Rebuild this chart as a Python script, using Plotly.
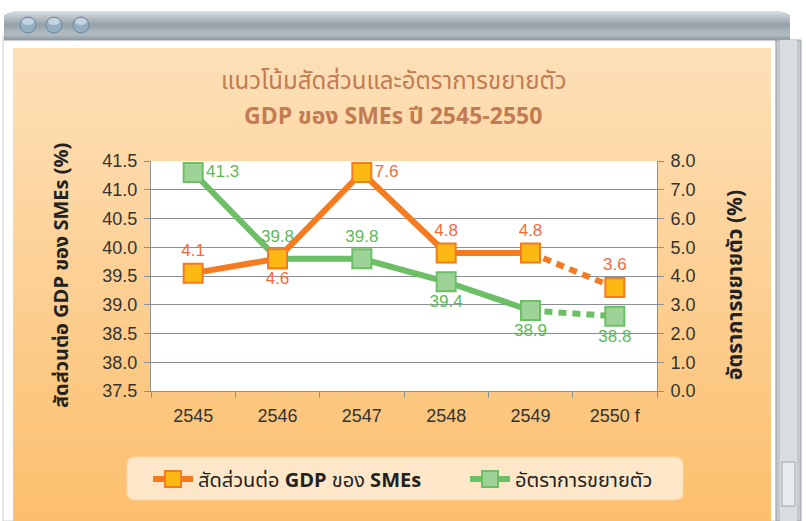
import plotly.graph_objects as go

# ---------------- data ----------------
years = ["2545", "2546", "2547", "2548", "2549", "2550 f"]
share_of_gdp = [41.3, 39.8, 39.8, 39.4, 38.9, 38.8]   # green line, left axis (%)
growth_rate = [4.1, 4.6, 7.6, 4.8, 4.8, 3.6]          # orange line, right axis (%)
left_ticks = [37.5, 38.0, 38.5, 39.0, 39.5, 40.0, 40.5, 41.0, 41.5]
right_ticks = [0, 1, 2, 3, 4, 5, 6, 7, 8]

name_orange = "สัดส่วนต่อ <b>GDP</b> ของ <b>SMEs</b>"
name_green = "อัตราการขยายตัว"
title_1 = "แนวโน้มสัดส่วนและอัตราการขยายตัว"
title_2 = "<b>GDP ของ SMEs ปี 2545-2550</b>"
ytitle_left = "<b>สัดส่วนต่อ GDP ของ SMEs (%)</b>"
ytitle_right = "<b>อัตราการขยายตัว (%)</b>"

# label placement (styling)
pos_green = ["middle right", "top center", "top center", "bottom center", "bottom center", "bottom center"]
pos_orange = ["top center", "bottom center", "middle right", "top center", "top center", "top center"]

# ---------------- layout geometry ----------------
W, H = 806, 521
L, R, T, B = 151, 657, 161, 391
THAI = "Noto Sans Thai, Noto Sans Thai UI, Loma, Garuda, Tlwg Typo, Sawasdee, Liberation Sans, sans-serif"
NUM = "Liberation Sans, Arial, sans-serif"


def fx(x):
    return (x - L) / (R - L)


def fy(y):
    return (B - y) / (B - T)


def lerp(c1, c2, t):
    a = [int(c1[i:i + 2], 16) for i in (1, 3, 5)]
    b = [int(c2[i:i + 2], 16) for i in (1, 3, 5)]
    return "#%02x%02x%02x" % tuple(round(a[k] + (b[k] - a[k]) * t) for k in range(3))


shapes = []


def rect(x0, y0, x1, y1, fill, line=None, lw=0, layer="below"):
    shapes.append(dict(type="rect", xref="paper", yref="paper",
                       x0=fx(x0), x1=fx(x1), y0=fy(y1), y1=fy(y0),
                       fillcolor=fill, line=dict(color=line or fill, width=lw), layer=layer))


# window frame
rect(3, 36, 776, 521, "#FFFFFF", "#C9CED2", 1)
# title bar gradient
bar_stops = [(0.0, "#D8DDE1"), (0.45, "#96A2AB"), (0.8, "#AEB7BE"), (1.0, "#8C979F")]
n = 30
for i in range(n):
    t = i / n
    for j in range(len(bar_stops) - 1):
        if bar_stops[j][0] <= t <= bar_stops[j + 1][0]:
            tt = (t - bar_stops[j][0]) / (bar_stops[j + 1][0] - bar_stops[j][0])
            c = lerp(bar_stops[j][1], bar_stops[j + 1][1], tt)
            break
    y0 = 11 + 29 * i / n
    y1 = 11 + 29 * (i + 1) / n + 0.5
    inset = 0
    if i < 4:
        inset = [9, 5, 3, 1.5][i]
    rect(4 + inset, y0, 790 - inset, y1, c)
# buttons
for cx in (28, 54, 81):
    shapes.append(dict(type="circle", xref="paper", yref="paper",
                       x0=fx(cx - 8), x1=fx(cx + 8), y0=fy(33), y1=fy(17),
                       fillcolor="#94AEC2", line=dict(color="#6E889C", width=1), layer="below"))
    shapes.append(dict(type="circle", xref="paper", yref="paper",
                       x0=fx(cx - 6), x1=fx(cx + 6), y0=fy(25), y1=fy(18),
                       fillcolor="#C3D3DF", line=dict(width=0), layer="below"))
# orange content gradient
n = 60
top_c, bot_c = "#FDE0B8", "#FCBF6D"
for i in range(n):
    y0 = 48 + (521 - 48) * i / n
    y1 = 48 + (521 - 48) * (i + 1) / n + 0.5
    rect(13, y0, 771, y1, lerp(top_c, bot_c, i / (n - 1)))
# scrollbar
rect(776, 40, 801, 521, "#C3C9CD", "#9EA6AC", 1)
rect(780, 40, 797, 521, "#D9DDE0")
rect(782, 462, 795, 506, "#E8EBED", "#9EA6AC", 1)
# plot area
rect(L, T, R, B, "#FFFFFF")
# legend rounded box
shapes.append(dict(type="path", xref="paper", yref="paper", layer="below",
                   path=("M %f,%f L %f,%f Q %f,%f %f,%f L %f,%f Q %f,%f %f,%f L %f,%f Q %f,%f %f,%f "
                         "L %f,%f Q %f,%f %f,%f Z") % (
                       fx(135), fy(457), fx(675), fy(457), fx(683), fy(457), fx(683), fy(465),
                       fx(683), fy(492), fx(683), fy(500), fx(675), fy(500),
                       fx(135), fy(500), fx(127), fy(500), fx(127), fy(492),
                       fx(127), fy(465), fx(127), fy(457), fx(135), fy(457)),
                   fillcolor="#FEE7C8", line=dict(color="#FDD9A6", width=1)))

ORANGE_LINE = "#F47B20"
ORANGE_FILL = "#FDB913"
ORANGE_TEXT = "#F26A3B"
GREEN_LINE = "#6CBF64"
GREEN_FILL = "#9DD397"
GREEN_TEXT = "#5CBA5A"

fig = go.Figure()

# green series (left axis)
fig.add_trace(go.Scatter(x=years[4:], y=share_of_gdp[4:], mode="lines", yaxis="y",
                         line=dict(color=GREEN_LINE, width=6, dash="8px,6px"),
                         showlegend=False, hoverinfo="skip"))
fig.add_trace(go.Scatter(x=years[:5], y=share_of_gdp[:5], mode="lines+markers+text", yaxis="y",
                         name=name_green, legendrank=2,
                         line=dict(color=GREEN_LINE, width=6),
                         marker=dict(symbol="square", size=19, color=GREEN_FILL,
                                     line=dict(color=GREEN_LINE, width=2)),
                         text=["%.1f" % v for v in share_of_gdp[:5]], textposition=pos_green[:5],
                         textfont=dict(color=GREEN_TEXT, size=17, family=NUM)))
fig.add_trace(go.Scatter(x=years[5:], y=share_of_gdp[5:], mode="markers+text", yaxis="y",
                         showlegend=False,
                         marker=dict(symbol="square", size=19, color=GREEN_FILL,
                                     line=dict(color=GREEN_LINE, width=2)),
                         text=["%.1f" % v for v in share_of_gdp[5:]], textposition=pos_green[5:],
                         textfont=dict(color=GREEN_TEXT, size=17, family=NUM)))
# orange series (right axis)
fig.add_trace(go.Scatter(x=years[4:], y=growth_rate[4:], mode="lines", yaxis="y2",
                         line=dict(color=ORANGE_LINE, width=6, dash="8px,6px"),
                         showlegend=False, hoverinfo="skip"))
fig.add_trace(go.Scatter(x=years[:5], y=growth_rate[:5], mode="lines+markers+text", yaxis="y2",
                         name=name_orange, legendrank=1,
                         line=dict(color=ORANGE_LINE, width=6),
                         marker=dict(symbol="square", size=19, color=ORANGE_FILL,
                                     line=dict(color=ORANGE_LINE, width=2)),
                         text=["%.1f" % v for v in growth_rate[:5]], textposition=pos_orange[:5],
                         textfont=dict(color=ORANGE_TEXT, size=17, family=NUM)))
fig.add_trace(go.Scatter(x=years[5:], y=growth_rate[5:], mode="markers+text", yaxis="y2",
                         showlegend=False,
                         marker=dict(symbol="square", size=19, color=ORANGE_FILL,
                                     line=dict(color=ORANGE_LINE, width=2)),
                         text=["%.1f" % v for v in growth_rate[5:]], textposition=pos_orange[5:],
                         textfont=dict(color=ORANGE_TEXT, size=17, family=NUM)))

axis_common = dict(showline=True, linecolor="#8A8F96", linewidth=1, ticks="outside",
                   ticklen=6, tickcolor="#8A8F96", tickfont=dict(size=18, color="#333333", family=NUM),
                   zeroline=False)
fig.update_layout(
    width=W, height=H,
    margin=dict(l=L, r=W - R, t=T, b=H - B, pad=0),
    paper_bgcolor="#FFFFFF", plot_bgcolor="rgba(0,0,0,0)",
    shapes=shapes,
    showlegend=True,
    legend=dict(orientation="h", x=fx(148), xanchor="left", y=fy(479), yanchor="middle",
                bgcolor="rgba(0,0,0,0)", font=dict(size=20, color="#222222", family=THAI),
                itemwidth=40, tracegroupgap=0, entrywidth=262),
    xaxis=dict(type="category", categoryorder="array", categoryarray=years,
               tickson="boundaries", range=[-0.5, 5.5], showgrid=False, ticklabelstandoff=8,
               **axis_common),
    yaxis=dict(range=[37.5, 41.5], tickvals=left_ticks, tickformat=".1f", ticklabelstandoff=3,
               showgrid=True, gridcolor="#8A8F96", gridwidth=1, **axis_common),
    yaxis2=dict(range=[0, 8], tickvals=right_ticks, tickformat=".1f", overlaying="y",
                ticklabelstandoff=3, side="right", showgrid=False, **axis_common),
    annotations=[
        dict(text=title_1, xref="paper", yref="paper", x=fx(393), y=fy(82), showarrow=False,
             xanchor="center", yanchor="middle", font=dict(size=24, color="#C27B52", family=THAI)),
        dict(text=title_2, xref="paper", yref="paper", x=fx(393), y=fy(117), showarrow=False,
             xanchor="center", yanchor="middle", font=dict(size=23, color="#C27B52", family=THAI)),
        dict(text=ytitle_left, xref="paper", yref="paper", x=fx(62), y=fy(276), showarrow=False,
             textangle=-90, xanchor="center", yanchor="middle",
             font=dict(size=20, color="#222222", family=THAI)),
        dict(text=ytitle_right, xref="paper", yref="paper", x=fx(735), y=fy(285), showarrow=False,
             textangle=-90, xanchor="center", yanchor="middle",
             font=dict(size=21, color="#222222", family=THAI)),
    ],
    hovermode=False,
)

fig.write_html("out.html", config={"displayModeBar": False},
               post_script="document.body.style.margin='0';")
